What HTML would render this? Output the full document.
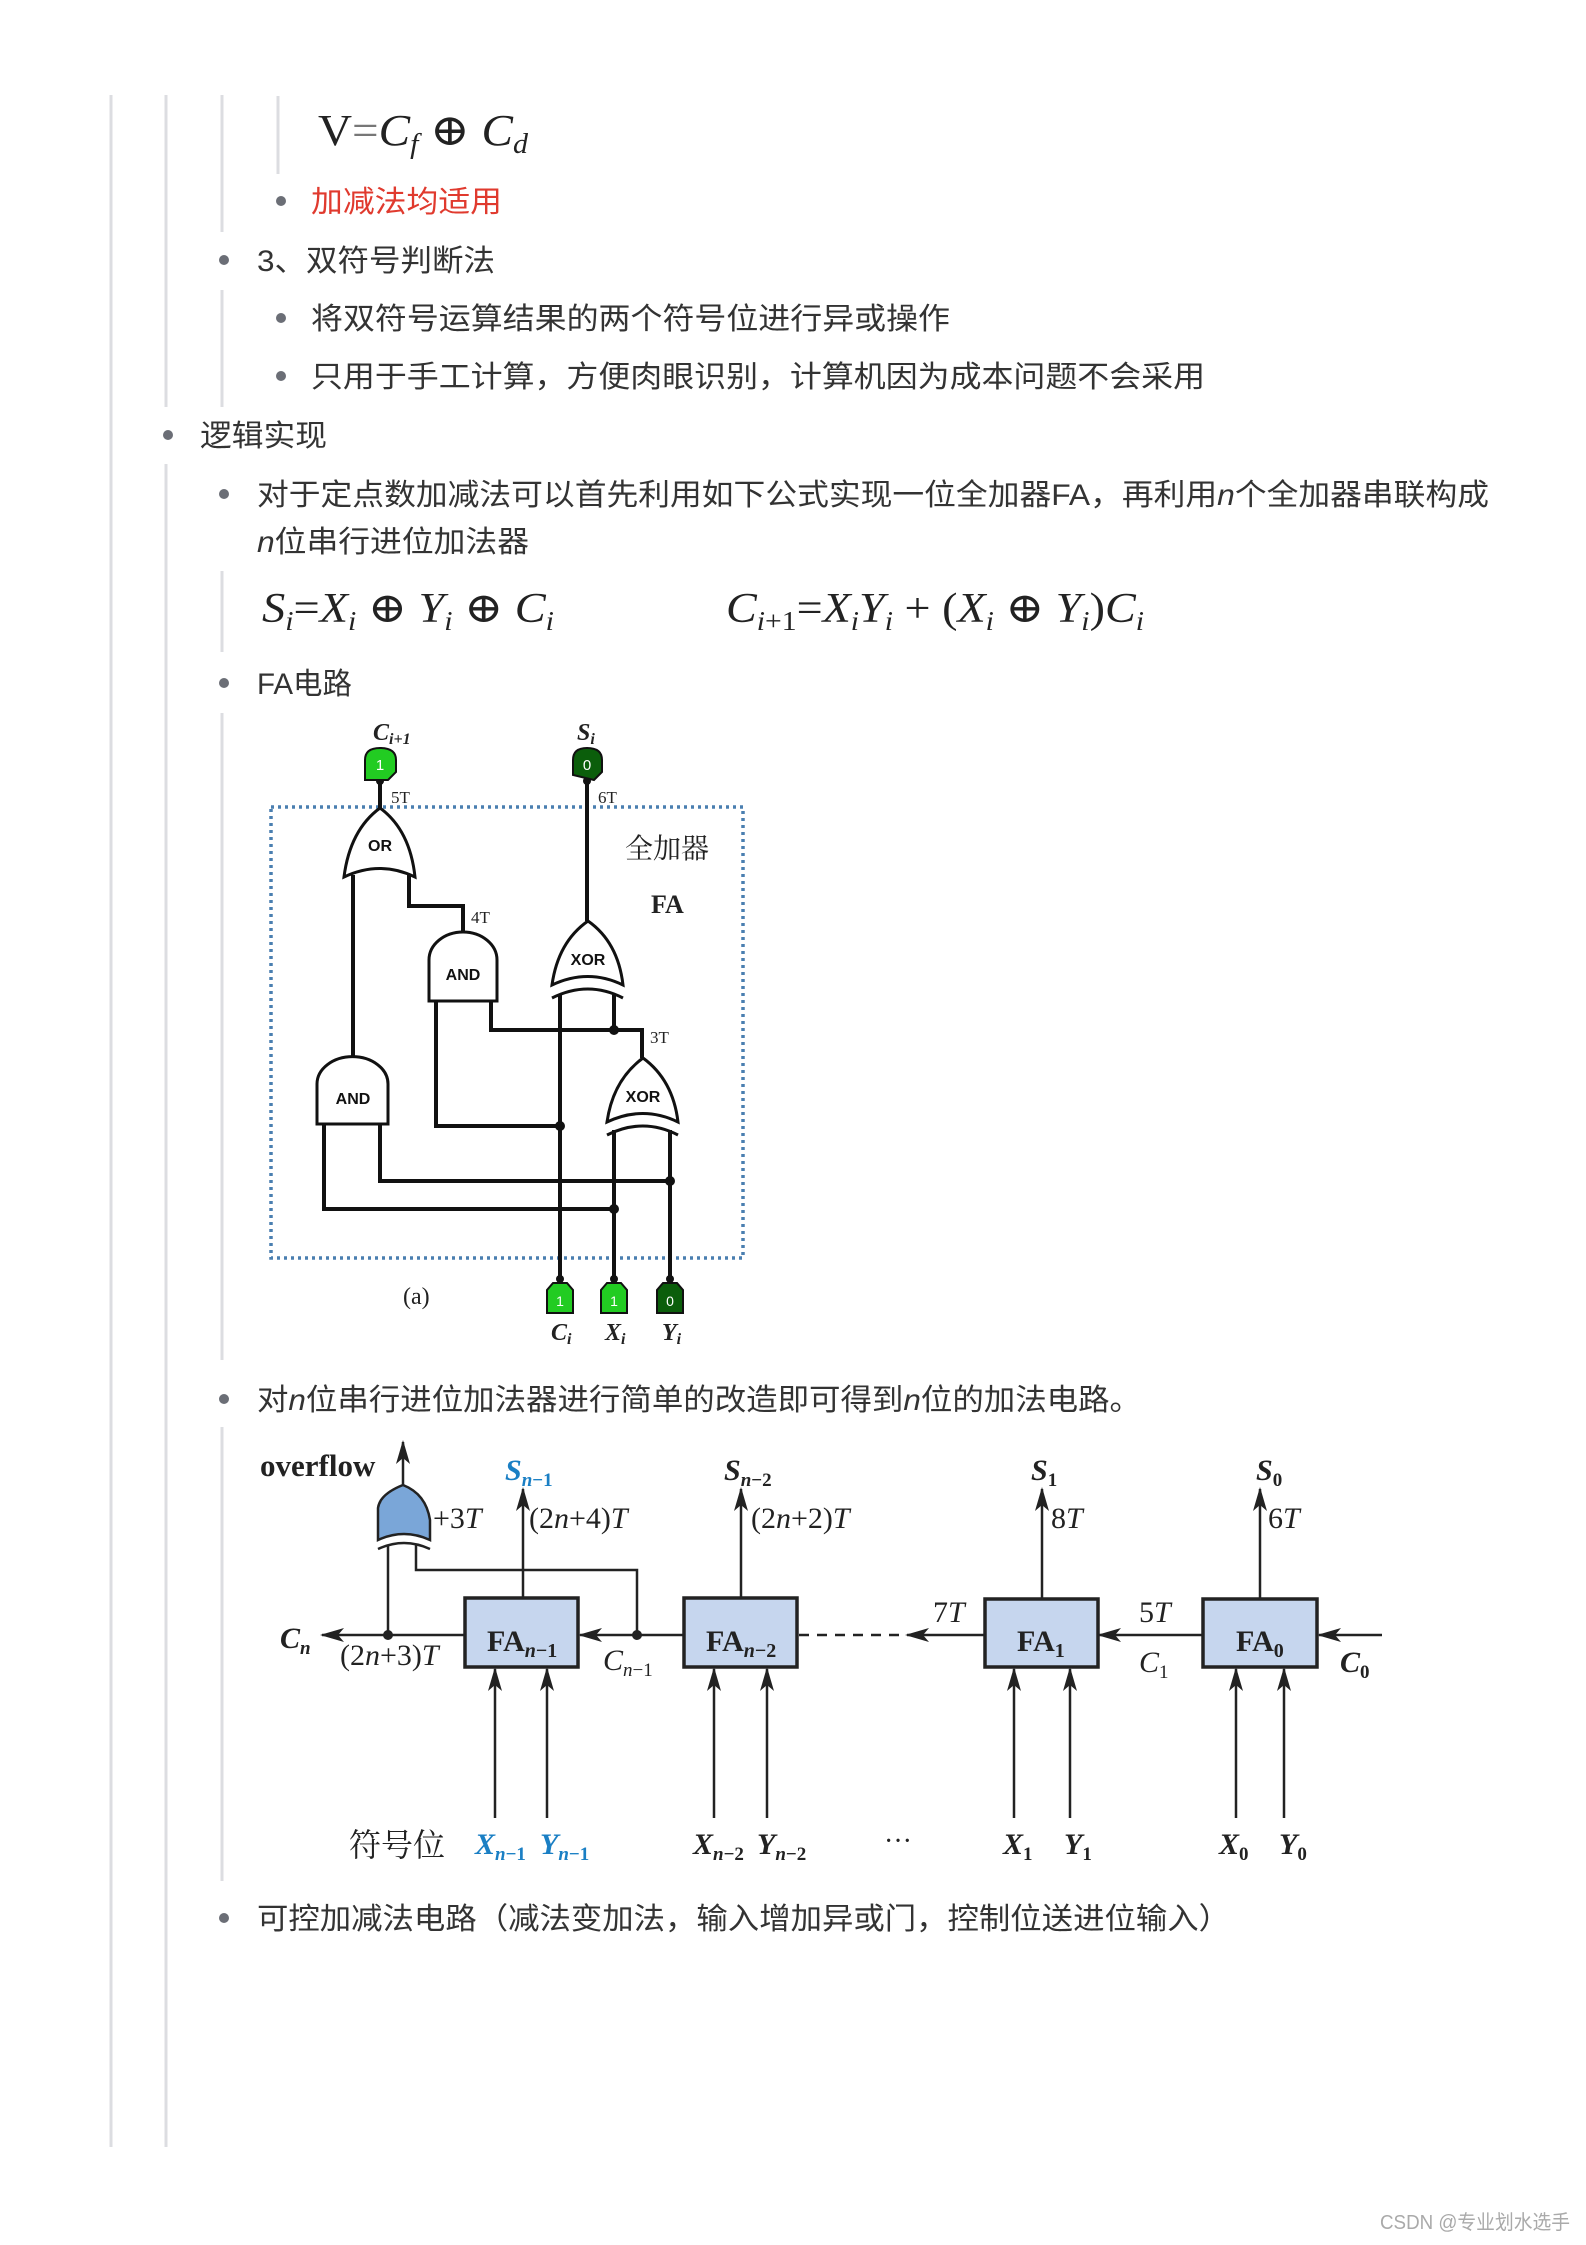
<!DOCTYPE html>
<html><head><meta charset="utf-8"><style>
html,body{margin:0;padding:0;background:#fff;}
svg{display:block;}
.t{font-family:"Liberation Sans","Noto Sans CJK SC",sans-serif;font-size:30px;fill:#333;}
.m{font-family:"Liberation Serif","DejaVu Serif",serif;font-style:italic;fill:#222;}
.s{font-family:"Liberation Serif","Noto Serif CJK SC",serif;fill:#222;}
.g{font-family:"Liberation Sans",sans-serif;font-weight:bold;font-size:16px;fill:#111;}
</style></head><body>
<svg width="1586" height="2245" viewBox="0 0 1586 2245" xmlns="http://www.w3.org/2000/svg">
<defs>
<marker id="ah" markerWidth="10" markerHeight="10" refX="9" refY="5" orient="auto" markerUnits="userSpaceOnUse"><path d="M0,0 L10,5 L0,10 Z" fill="#222"/></marker>
<marker id="ah2" markerWidth="24" markerHeight="14" refX="22" refY="7" orient="auto" markerUnits="userSpaceOnUse"><path d="M0,0 L24,7 L0,14 L6,7 Z" fill="#222"/></marker>
</defs>
<!-- guide lines -->
<g stroke="#dcdde1" stroke-width="3">
<line x1="111" y1="95" x2="111" y2="2147"/>
<line x1="166" y1="95" x2="166" y2="407"/>
<line x1="166" y1="464" x2="166" y2="2147"/>
<line x1="222" y1="95" x2="222" y2="232"/>
<line x1="222" y1="290" x2="222" y2="407"/>
<line x1="222" y1="571" x2="222" y2="652"/>
<line x1="222" y1="713" x2="222" y2="1360"/>
<line x1="222" y1="1427" x2="222" y2="1881"/>
<line x1="278" y1="96" x2="278" y2="174"/>
</g>
<!-- bullets -->
<g fill="#6b6e76">
<circle cx="281" cy="201" r="5"/>
<circle cx="224" cy="260" r="5"/>
<circle cx="281" cy="318" r="5"/>
<circle cx="281" cy="376" r="5"/>
<circle cx="168" cy="435" r="5"/>
<circle cx="224" cy="494" r="5"/>
<circle cx="224" cy="683" r="5"/>
<circle cx="224" cy="1399" r="5"/>
<circle cx="224" cy="1918" r="5"/>
</g>
<!-- formula V -->
<text class="m" x="318" y="145" font-size="44" textLength="210" lengthAdjust="spacingAndGlyphs"><tspan font-style="normal">V</tspan><tspan font-style="normal" fill="#777">=</tspan>C<tspan font-size="28" dy="8">f</tspan><tspan dy="-8" font-style="normal"> ⊕ </tspan>C<tspan font-size="28" dy="8">d</tspan></text>
<text class="t" x="311" y="212" fill="#e03a2e" style="fill:#e03a2e" textLength="191" lengthAdjust="spacingAndGlyphs">加减法均适用</text>
<text class="t" x="257" y="271" textLength="238" lengthAdjust="spacingAndGlyphs">3、双符号判断法</text>
<text class="t" x="311" y="329" textLength="639" lengthAdjust="spacingAndGlyphs">将双符号运算结果的两个符号位进行异或操作</text>
<text class="t" x="311" y="387" textLength="894" lengthAdjust="spacingAndGlyphs">只用于手工计算，方便肉眼识别，计算机因为成本问题不会采用</text>
<text class="t" x="200" y="446" textLength="127" lengthAdjust="spacingAndGlyphs">逻辑实现</text>
<text class="t" x="257" y="505" textLength="1232" lengthAdjust="spacingAndGlyphs">对于定点数加减法可以首先利用如下公式实现一位全加器FA，再利用<tspan font-style="italic">n</tspan>个全加器串联构成</text>
<text class="t" x="257" y="552" textLength="272" lengthAdjust="spacingAndGlyphs"><tspan font-style="italic">n</tspan>位串行进位加法器</text>
<!-- formulas -->
<text class="m" x="262" y="622" font-size="42" textLength="292" lengthAdjust="spacingAndGlyphs">S<tspan font-size="27" dy="8">i</tspan><tspan dy="-8" font-style="normal">=</tspan>X<tspan font-size="27" dy="8">i</tspan><tspan dy="-8" font-style="normal"> ⊕ </tspan>Y<tspan font-size="27" dy="8">i</tspan><tspan dy="-8" font-style="normal"> ⊕ </tspan>C<tspan font-size="27" dy="8">i</tspan></text>
<text class="m" x="726" y="622" font-size="42" textLength="418" lengthAdjust="spacingAndGlyphs">C<tspan font-size="27" dy="8">i<tspan font-style="normal">+1</tspan></tspan><tspan dy="-8" font-style="normal">=</tspan>X<tspan font-size="27" dy="8">i</tspan><tspan dy="-8">Y</tspan><tspan font-size="27" dy="8">i</tspan><tspan dy="-8" font-style="normal"> + (</tspan>X<tspan font-size="27" dy="8">i</tspan><tspan dy="-8" font-style="normal"> ⊕ </tspan>Y<tspan font-size="27" dy="8">i</tspan><tspan dy="-8" font-style="normal">)</tspan>C<tspan font-size="27" dy="8">i</tspan></text>
<text class="t" x="257" y="694" textLength="95" lengthAdjust="spacingAndGlyphs">FA电路</text>

<!-- FA circuit -->
<rect x="271" y="807" width="472" height="451" fill="none" stroke="#4a7fb0" stroke-width="3.5" stroke-dasharray="3,4"/>
<g stroke="#111" stroke-width="4" fill="none">
<line x1="380" y1="780" x2="380" y2="810"/>
<line x1="587" y1="780" x2="587" y2="921"/>
<polyline points="353,875 353,1058"/>
<polyline points="409,875 409,906 463,906 463,934"/>
<polyline points="436,1001 436,1126 560,1126"/>
<polyline points="491,1001 491,1030 642,1030 642,1058"/>
<line x1="560" y1="995" x2="560" y2="1280"/>
<line x1="614" y1="995" x2="614" y2="1030"/>
<line x1="614" y1="1130" x2="614" y2="1280"/>
<line x1="670" y1="1130" x2="670" y2="1280"/>
<polyline points="380,1124 380,1181 670,1181"/>
<polyline points="324,1124 324,1209 614,1209"/>
</g>
<g fill="#111">
<circle cx="614" cy="1030" r="5"/><circle cx="560" cy="1126" r="5"/>
<circle cx="670" cy="1181" r="5"/><circle cx="614" cy="1209" r="5"/>
<circle cx="560" cy="1279" r="4"/><circle cx="614" cy="1279" r="4"/><circle cx="670" cy="1279" r="4"/>
<circle cx="380" cy="781" r="4"/><circle cx="587" cy="781" r="4"/>
</g>
<g stroke="#111" stroke-width="3" fill="#fff">
<!-- OR -->
<path d="M344,877 Q380,860 415,877 Q410,830 380,808 Q350,830 344,877 Z"/>
<!-- XOR top -->
<path d="M552,985 Q588,968 623,985 Q618,942 588,921 Q558,942 552,985 Z"/>
<path d="M552,998 Q588,980 623,998" fill="none"/>
<!-- XOR lower -->
<path d="M607,1122 Q643,1105 678,1122 Q673,1080 643,1058 Q613,1080 607,1122 Z"/>
<path d="M607,1135 Q643,1117 678,1135" fill="none"/>
<!-- AND mid -->
<path d="M429,1001 V960 A34,28 0 0 1 497,960 V1001 Z"/>
<!-- AND left -->
<path d="M317,1124 V1084 A35,27 0 0 1 388,1084 V1124 Z"/>
</g>
<text class="g" x="380" y="851" text-anchor="middle">OR</text>
<text class="g" x="588" y="965" text-anchor="middle">XOR</text>
<text class="g" x="643" y="1102" text-anchor="middle">XOR</text>
<text class="g" x="463" y="980" text-anchor="middle">AND</text>
<text class="g" x="353" y="1104" text-anchor="middle">AND</text>
<!-- pins top -->
<path d="M365,780 V760 Q365,748 380,748 Q396,748 396,760 V772 L388,780 Z" fill="#22cc22" stroke="#111" stroke-width="2"/>
<path d="M573,775 V760 Q573,748 587,748 Q602,748 602,760 V772 L594,780 Z" fill="#0b5e0b" stroke="#111" stroke-width="2"/>
<text x="380" y="770" font-family="Liberation Sans" font-size="15" fill="#fff" text-anchor="middle">1</text>
<text x="587" y="770" font-family="Liberation Sans" font-size="15" fill="#fff" text-anchor="middle">0</text>
<!-- pins bottom -->
<path d="M547,1313 V1290 L553,1283 H567 L573,1290 V1313 Z" fill="#22cc22" stroke="#111" stroke-width="2"/>
<path d="M601,1313 V1290 L607,1283 H621 L627,1290 V1313 Z" fill="#22cc22" stroke="#111" stroke-width="2"/>
<path d="M657,1313 V1290 L663,1283 H677 L683,1290 V1313 Z" fill="#0b5e0b" stroke="#111" stroke-width="2"/>
<text x="560" y="1306" font-family="Liberation Sans" font-size="14" fill="#fff" text-anchor="middle">1</text>
<text x="614" y="1306" font-family="Liberation Sans" font-size="14" fill="#fff" text-anchor="middle">1</text>
<text x="670" y="1306" font-family="Liberation Sans" font-size="14" fill="#fff" text-anchor="middle">0</text>
<g class="m" font-weight="bold" font-size="24">
<text x="373" y="740">C<tspan font-size="16" dy="4">i+1</tspan></text>
<text x="577" y="740">S<tspan font-size="16" dy="4">i</tspan></text>
<text x="551" y="1340">C<tspan font-size="16" dy="4">i</tspan></text>
<text x="605" y="1340">X<tspan font-size="16" dy="4">i</tspan></text>
<text x="662" y="1340">Y<tspan font-size="16" dy="4">i</tspan></text>
</g>
<g class="s" font-size="17" fill="#333">
<text x="391" y="803">5T</text><text x="598" y="803">6T</text>
<text x="471" y="923">4T</text><text x="650" y="1043">3T</text>
</g>
<text class="s" x="403" y="1304" font-size="24">(a)</text>
<text class="s" x="625" y="858" font-size="28">全加器</text>
<text class="s" x="651" y="913" font-size="26" font-weight="bold">FA</text>

<!-- n-bit text -->
<text class="t" x="257" y="1410" textLength="884" lengthAdjust="spacingAndGlyphs">对<tspan font-style="italic">n</tspan>位串行进位加法器进行简单的改造即可得到<tspan font-style="italic">n</tspan>位的加法电路。</text>

<!-- adder diagram -->
<g stroke="#222" stroke-width="2.5" fill="none">
<line x1="403" y1="1486" x2="403" y2="1442" marker-end="url(#ah2)"/>
<line x1="388" y1="1545" x2="388" y2="1635"/>
<polyline points="416,1545 416,1570 637,1570 637,1635"/>
<line x1="465" y1="1635" x2="322" y2="1635" marker-end="url(#ah2)"/>
<line x1="684" y1="1635" x2="580" y2="1635" marker-end="url(#ah2)"/>
<line x1="984" y1="1635" x2="907" y2="1635" marker-end="url(#ah2)"/>
<line x1="799" y1="1635" x2="905" y2="1635" stroke-dasharray="10,8"/>
<line x1="1203" y1="1635" x2="1099" y2="1635" marker-end="url(#ah2)"/>
<line x1="1382" y1="1635" x2="1319" y2="1635" marker-end="url(#ah2)"/>
<line x1="523" y1="1598" x2="523" y2="1489" marker-end="url(#ah2)"/>
<line x1="741" y1="1598" x2="741" y2="1489" marker-end="url(#ah2)"/>
<line x1="1042" y1="1598" x2="1042" y2="1489" marker-end="url(#ah2)"/>
<line x1="1260" y1="1598" x2="1260" y2="1489" marker-end="url(#ah2)"/>
<line x1="495" y1="1818" x2="495" y2="1669" marker-end="url(#ah2)"/>
<line x1="547" y1="1818" x2="547" y2="1669" marker-end="url(#ah2)"/>
<line x1="714" y1="1818" x2="714" y2="1669" marker-end="url(#ah2)"/>
<line x1="767" y1="1818" x2="767" y2="1669" marker-end="url(#ah2)"/>
<line x1="1014" y1="1818" x2="1014" y2="1669" marker-end="url(#ah2)"/>
<line x1="1070" y1="1818" x2="1070" y2="1669" marker-end="url(#ah2)"/>
<line x1="1236" y1="1818" x2="1236" y2="1669" marker-end="url(#ah2)"/>
<line x1="1284" y1="1818" x2="1284" y2="1669" marker-end="url(#ah2)"/>
</g>
<g fill="#222"><circle cx="388" cy="1635" r="5"/><circle cx="637" cy="1635" r="5"/></g>
<path d="M378,1540 V1508 Q380,1494 403,1485 Q426,1494 430,1520 V1540 Q404,1528 378,1540 Z" fill="#7aa6d8" stroke="#222" stroke-width="2.5"/>
<path d="M378,1549 Q404,1537 430,1549" fill="none" stroke="#222" stroke-width="2.5"/>
<g fill="#c6d6ee" stroke="#222" stroke-width="3.5">
<rect x="465" y="1598" width="113" height="69"/>
<rect x="684" y="1598" width="113" height="69"/>
<rect x="985" y="1599" width="113" height="68"/>
<rect x="1203" y="1599" width="114" height="68"/>
</g>
<g class="s" font-weight="bold" font-size="30">
<text x="487" y="1651">FA<tspan font-style="italic" font-size="20" dy="6">n</tspan><tspan font-size="20">−1</tspan></text>
<text x="706" y="1651">FA<tspan font-style="italic" font-size="20" dy="6">n</tspan><tspan font-size="20">−2</tspan></text>
<text x="1017" y="1651">FA<tspan font-size="20" dy="6">1</tspan></text>
<text x="1236" y="1651">FA<tspan font-size="20" dy="6">0</tspan></text>
<text x="260" y="1476" font-size="31">overflow</text>
</g>
<g class="m" font-size="30">
<text x="505" y="1480" font-weight="bold" fill="#1a7fc4" style="fill:#1a7fc4">S<tspan font-size="19" dy="6">n<tspan font-style="normal">−1</tspan></tspan></text>
<text x="724" y="1480" font-weight="bold">S<tspan font-size="19" dy="6">n<tspan font-style="normal">−2</tspan></tspan></text>
<text x="1031" y="1480" font-weight="bold">S<tspan font-size="19" dy="6" font-style="normal">1</tspan></text>
<text x="1256" y="1480" font-weight="bold">S<tspan font-size="19" dy="6" font-style="normal">0</tspan></text>
<text x="433" y="1528"><tspan font-style="normal">+3</tspan>T</text>
<text x="529" y="1528"><tspan font-style="normal">(2</tspan>n<tspan font-style="normal">+4)</tspan>T</text>
<text x="751" y="1528"><tspan font-style="normal">(2</tspan>n<tspan font-style="normal">+2)</tspan>T</text>
<text x="1051" y="1528"><tspan font-style="normal">8</tspan>T</text>
<text x="1268" y="1528"><tspan font-style="normal">6</tspan>T</text>
<text x="340" y="1665"><tspan font-style="normal">(2</tspan>n<tspan font-style="normal">+3)</tspan>T</text>
<text x="280" y="1648" font-weight="bold">C<tspan font-size="19" dy="6">n</tspan></text>
<text x="603" y="1670">C<tspan font-size="19" dy="6">n<tspan font-style="normal">−1</tspan></tspan></text>
<text x="933" y="1622"><tspan font-style="normal">7</tspan>T</text>
<text x="1139" y="1622"><tspan font-style="normal">5</tspan>T</text>
<text x="1139" y="1672">C<tspan font-size="19" dy="6" font-style="normal">1</tspan></text>
<text x="1340" y="1672" font-weight="bold">C<tspan font-size="19" dy="6" font-style="normal">0</tspan></text>
<g font-weight="bold">
<text x="475" y="1854" fill="#1a7fc4" style="fill:#1a7fc4">X<tspan font-size="19" dy="6">n<tspan font-style="normal">−1</tspan></tspan></text>
<text x="540" y="1854" fill="#1a7fc4" style="fill:#1a7fc4">Y<tspan font-size="19" dy="6">n<tspan font-style="normal">−1</tspan></tspan></text>
<text x="693" y="1854">X<tspan font-size="19" dy="6">n<tspan font-style="normal">−2</tspan></tspan></text>
<text x="757" y="1854">Y<tspan font-size="19" dy="6">n<tspan font-style="normal">−2</tspan></tspan></text>
<text x="1003" y="1854">X<tspan font-size="19" dy="6" font-style="normal">1</tspan></text>
<text x="1064" y="1854">Y<tspan font-size="19" dy="6" font-style="normal">1</tspan></text>
<text x="1219" y="1854">X<tspan font-size="19" dy="6" font-style="normal">0</tspan></text>
<text x="1279" y="1854">Y<tspan font-size="19" dy="6" font-style="normal">0</tspan></text>
</g>
</g>
<text class="s" x="349" y="1856" font-size="32" fill="#333">符号位</text>
<text class="s" x="884" y="1850" font-size="28">···</text>

<text class="t" x="257" y="1929" textLength="973" lengthAdjust="spacingAndGlyphs">可控加减法电路（减法变加法，输入增加异或门，控制位送进位输入）</text>
<text x="1380" y="2229" font-family="Liberation Sans,Noto Sans CJK SC,sans-serif" font-size="20" fill="#aaa" textLength="190" lengthAdjust="spacingAndGlyphs">CSDN @专业划水选手</text>
</svg>
</body></html>
